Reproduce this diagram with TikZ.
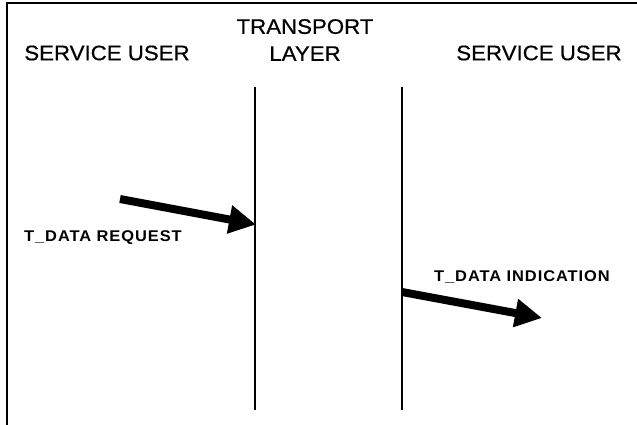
\documentclass[tikz,border=0pt]{standalone}
\usepackage{fontspec}
\setmainfont{Liberation Sans}
\newfontfamily\headfont[FakeStretch=1.06,FakeBold=0.6]{Liberation Sans}
\newfontfamily\labelfont[FakeStretch=1.06,LetterSpace=6]{Liberation Sans Bold}
\usetikzlibrary{arrows.meta}
\begin{document}
\begin{tikzpicture}[x=1pt,y=-1pt,
  frame/.style={line width=1.4pt},
  lifeline/.style={line width=1.3pt},
  head/.style={font=\headfont\fontsize{21}{24}\selectfont, inner sep=0pt, align=center},
  msglabel/.style={font=\labelfont\fontsize{15.5}{18}\selectfont, inner sep=0pt, anchor=west},
  primitive/.style={line width=8pt, -{Triangle[length=27pt,width=27pt]}}]
  \useasboundingbox (0,0) rectangle (637,425);
  \fill[white] (0,0) rectangle (637,425);

  % open frame: left and top edges
  \coordinate (fbl) at (7,425);
  \coordinate (ftl) at (7,3);
  \coordinate (ftr) at (637,3);
  \draw[frame] (fbl) -- (ftl) -- (ftr);

  % column headings
  \node[head] (userA) at (107,53) {SERVICE USER};
  \node[head] (layer) at (305,40) {TRANSPORT\\[3pt]LAYER};
  \node[head] (userB) at (539,53) {SERVICE USER};

  % transport layer boundaries
  \coordinate (lt) at (255,87);
  \coordinate (lb) at (255,410);
  \coordinate (rt) at (402,87);
  \coordinate (rb) at (402,410);
  \draw[lifeline] (lt) -- (lb);
  \draw[lifeline] (rt) -- (rb);

  % request primitive into the layer
  \coordinate (reqFrom) at (120,199);
  \coordinate (reqTo) at (256,224.5);
  \draw[primitive] (reqFrom) -- (reqTo);
  \node[msglabel] (reqText) at (24,238) {T\_DATA REQUEST};

  % indication primitive out of the layer
  \coordinate (indFrom) at (402,292);
  \coordinate (indTo) at (542,318);
  \draw[primitive] (indFrom) -- (indTo);
  \node[msglabel] (indText) at (434,277) {T\_DATA INDICATION};
\end{tikzpicture}
\end{document}
